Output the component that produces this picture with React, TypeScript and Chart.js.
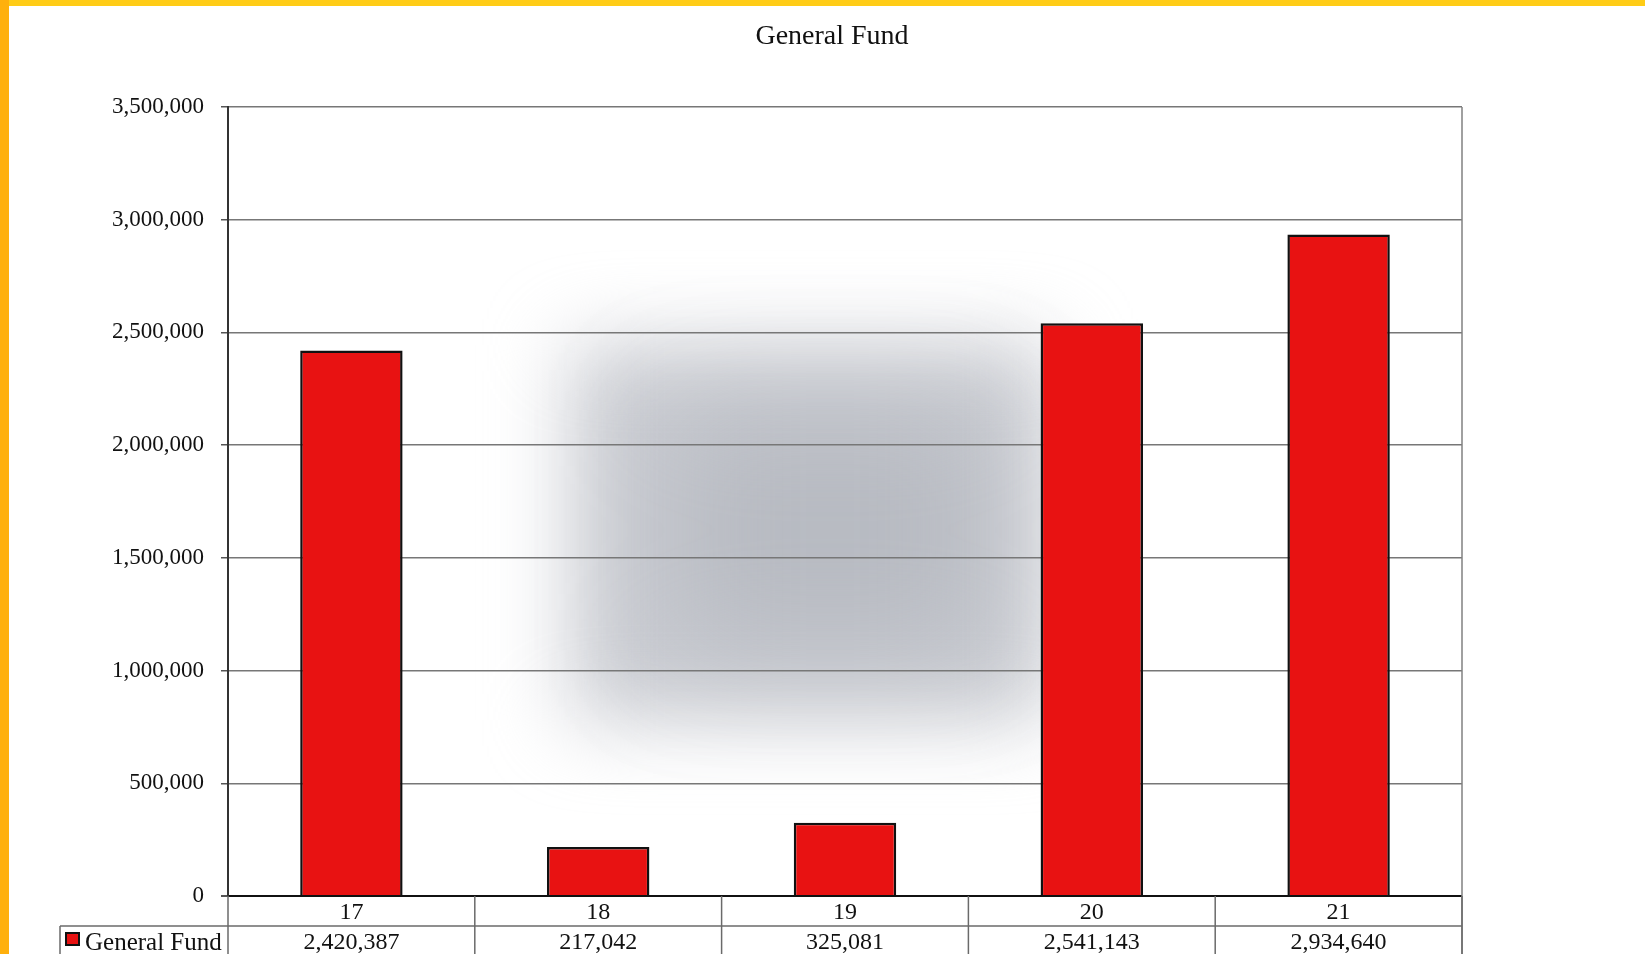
import React, { useEffect, useRef } from "react";
import { Chart, registerables } from "chart.js";

Chart.register(...registerables);

// ---- data ----
const categories: string[] = ["17", "18", "19", "20", "21"];
const generalFund: number[] = [2420387, 217042, 325081, 2541143, 2934640];
const seriesName = "General Fund";
const chartTitle = "General Fund";
const yMax = 3500000;
const yStep = 500000;

const W = 1645;
const H = 954;
const SERIF = "'Liberation Serif', 'Times New Roman', serif";
const BAR_RED = "#e81212";

const fmt = (v: number) => Number(v).toLocaleString("en-US");

const decorPlugin = {
  id: "decor",
  beforeDraw(chart: any) {
    const ctx = chart.ctx as CanvasRenderingContext2D;
    ctx.save();
    ctx.fillStyle = "#ffffff";
    ctx.fillRect(0, 0, W, H);
    // soft grey scan haze behind the plot
    ctx.filter = "blur(40px)";
    ctx.fillStyle = "rgb(203,205,211)";
    ctx.fillRect(570, 345, 480, 375);
    ctx.filter = "blur(60px)";
    ctx.fillStyle = "rgba(160,163,172,0.45)";
    ctx.fillRect(670, 410, 320, 240);
    ctx.filter = "none";
    ctx.restore();
  },
  afterDraw(chart: any) {
    const ctx = chart.ctx as CanvasRenderingContext2D;
    const area = chart.chartArea;
    const xs = chart.scales.x;
    const n = categories.length;
    const c0 = xs.getPixelForValue(0);
    const c1 = xs.getPixelForValue(1);
    const half = (c1 - c0) / 2;
    const row1Top = area.bottom;
    const row2Top = area.bottom + 30;
    ctx.save();

    // title
    ctx.fillStyle = "#111";
    ctx.font = `28px ${SERIF}`;
    ctx.textAlign = "center";
    ctx.textBaseline = "middle";
    ctx.fillText(chartTitle, 832, 37);

    // right border of plot + table
    ctx.strokeStyle = "#808080";
    ctx.lineWidth = 1.5;
    ctx.beginPath();
    ctx.moveTo(area.right, area.top);
    ctx.lineTo(area.right, H);
    ctx.stroke();

    // table vertical lines
    ctx.strokeStyle = "#6a6a6a";
    ctx.lineWidth = 1.5;
    for (let i = 0; i <= n; i++) {
      const x = c0 - half + i * 2 * half;
      ctx.beginPath();
      ctx.moveTo(x, row1Top);
      ctx.lineTo(x, H);
      ctx.stroke();
    }
    // row separator
    ctx.beginPath();
    ctx.moveTo(60, row2Top);
    ctx.lineTo(area.right, row2Top);
    ctx.stroke();
    // legend cell left border
    ctx.beginPath();
    ctx.moveTo(60, row2Top);
    ctx.lineTo(60, H);
    ctx.stroke();

    // category labels and values
    ctx.fillStyle = "#111";
    ctx.font = `24px ${SERIF}`;
    ctx.textAlign = "center";
    ctx.textBaseline = "middle";
    categories.forEach((c, i) => {
      const x = xs.getPixelForValue(i);
      ctx.fillText(c, x, (row1Top + row2Top) / 2 + 2);
      ctx.fillText(fmt(generalFund[i]), x, row2Top + 17);
    });

    // legend key
    ctx.fillStyle = BAR_RED;
    ctx.fillRect(66, 933, 13, 12);
    ctx.strokeStyle = "#111";
    ctx.lineWidth = 2;
    ctx.strokeRect(66, 933, 13, 12);
    ctx.fillStyle = "#111";
    ctx.textAlign = "left";
    ctx.font = `25px ${SERIF}`;
    ctx.fillText(seriesName, 85, row2Top + 17);

    // page edge colours
    ctx.fillStyle = "#ffcc16";
    ctx.fillRect(0, 0, W, 6);
    ctx.fillStyle = "#ffb00c";
    ctx.fillRect(0, 0, 9, H);
    ctx.restore();
  },
};

export default function App() {
  const ref = useRef<HTMLCanvasElement | null>(null);
  useEffect(() => {
    if (!ref.current) return;
    const chart = new Chart(ref.current, {
      type: "bar",
      data: {
        labels: categories,
        datasets: [
          {
            label: seriesName,
            data: generalFund,
            backgroundColor: BAR_RED,
            borderColor: "#111111",
            borderWidth: 2.5,
            barPercentage: 0.415,
            categoryPercentage: 1,
          },
        ],
      },
      options: {
        responsive: false,
        animation: false,
        devicePixelRatio: 1,
        layout: { padding: { left: 0, top: 107, right: 183, bottom: 58 } },
        plugins: {
          legend: { display: false },
          title: { display: false },
          tooltip: { enabled: false },
        },
        scales: {
          x: { display: false, offset: true },
          y: {
            min: 0,
            max: yMax,
            afterFit: (s: any) => {
              s.width = 228;
            },
            ticks: {
              stepSize: yStep,
              padding: 17,
              color: "#111",
              font: { family: SERIF, size: 23 },
              callback: (v: any) => fmt(v),
            },
            grid: {
              color: (c: any) => (c.tick && c.tick.value === 0 ? "#111111" : "#777777"),
              lineWidth: (c: any) => (c.tick && c.tick.value === 0 ? 2 : 1.5),
              tickLength: 7,
              tickColor: "#555555",
            },
            border: { display: true, color: "#333333", width: 2 },
          },
        },
      },
      plugins: [decorPlugin],
    });
    return () => chart.destroy();
  }, []);
  return (
    <div style={{ position: "absolute", left: 0, top: 0, width: W, height: H, background: "#fff" }}>
      <canvas ref={ref} width={W} height={H} style={{ display: "block" }} />
    </div>
  );
}
